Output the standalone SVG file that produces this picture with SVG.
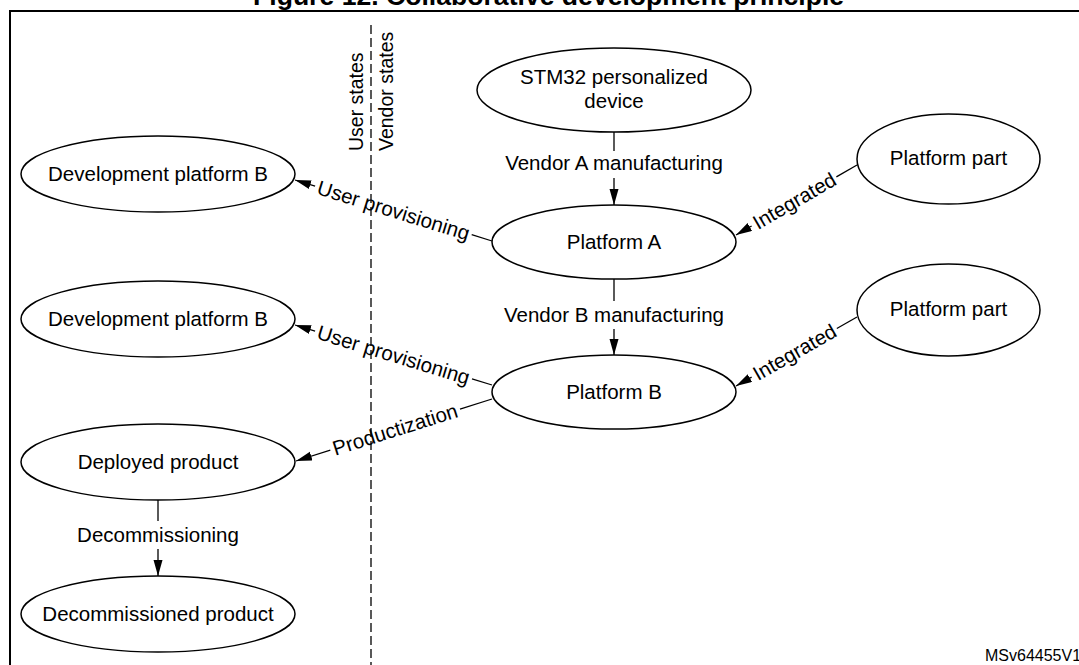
<svg xmlns="http://www.w3.org/2000/svg" width="1079" height="665" viewBox="0 0 1079 665">
<style>
text{font-family:"Liberation Sans",Arial,sans-serif;font-size:20.5px;fill:#000}
.t{text-anchor:middle}
.node ellipse{fill:#fff;stroke:#000;stroke-width:1.5}
.c line{stroke:#000;stroke-width:1.3;fill:none}
.title{font-weight:bold;font-size:26.6px}
.id{font-size:16px}
.side{font-size:19.5px}
</style>
<defs>
<marker id="ah" markerUnits="userSpaceOnUse" markerWidth="17" markerHeight="10" refX="16" refY="4.5" orient="auto">
<path d="M0,0 L16,4.5 L0,9 z" fill="#000"/>
</marker>
</defs>
<rect width="1079" height="665" fill="#fff"/>
<text class="title" x="253" y="5">Figure 12. Collaborative development principle</text>
<path d="M10,665 V11 H1079" fill="none" stroke="#000" stroke-width="2"/>
<g id="divider">
<line x1="371" y1="25" x2="371" y2="665" stroke="#000" stroke-width="1.3" stroke-dasharray="9,4"/>
<text class="side" transform="translate(363,151) rotate(-90)">User states</text>
<text class="side" transform="translate(393,151) rotate(-90)">Vendor states</text>
</g>
<g id="connectors" class="c">
<line x1="614" y1="132" x2="614" y2="151"/>
<line x1="614" y1="178" x2="614" y2="205" marker-end="url(#ah)"/>
<text class="t" x="614" y="170">Vendor A manufacturing</text>
<line x1="614" y1="279" x2="614" y2="301"/>
<line x1="614" y1="329" x2="614" y2="355" marker-end="url(#ah)"/>
<text class="t" x="614" y="322">Vendor B manufacturing</text>
<line x1="158" y1="500" x2="158" y2="521"/>
<line x1="158" y1="549" x2="158" y2="576" marker-end="url(#ah)"/>
<text class="t" x="158" y="542">Decommissioning</text>
<line x1="492" y1="241" x2="471.7" y2="234.7"/>
<line x1="315.1" y1="186.2" x2="295" y2="180" marker-end="url(#ah)"/>
<text class="t" transform="translate(393.5,210.5) rotate(17.21)" x="0" y="7">User provisioning</text>
<line x1="492" y1="385" x2="472" y2="378.9"/>
<line x1="315.1" y1="331.1" x2="295" y2="325" marker-end="url(#ah)"/>
<text class="t" transform="translate(393.5,355) rotate(16.94)" x="0" y="7">User provisioning</text>
<line x1="492" y1="399" x2="460" y2="409.1"/>
<line x1="330.3" y1="450.1" x2="296" y2="461" marker-end="url(#ah)"/>
<text class="t" transform="translate(395.1,429.6) rotate(-17.55)" x="0" y="7">Productization</text>
<line x1="857" y1="165" x2="836.4" y2="176.9"/>
<line x1="751.6" y1="226" x2="736" y2="235" marker-end="url(#ah)"/>
<text class="t" transform="translate(794.5,201) rotate(-30.05)" x="0" y="7">Integrated</text>
<line x1="857" y1="317" x2="836.8" y2="328.5"/>
<line x1="751.6" y1="377.1" x2="736" y2="386" marker-end="url(#ah)"/>
<text class="t" transform="translate(794.7,352.3) rotate(-29.7)" x="0" y="7">Integrated</text>
</g>
<g id="stm32" class="node"><ellipse cx="614" cy="90" rx="137" ry="42"/><text class="t" x="614" y="84">STM32 personalized</text><text class="t" x="614" y="108">device</text></g>
<g id="platformPart1" class="node"><ellipse cx="948.5" cy="159" rx="91.5" ry="45"/><text class="t" x="948.5" y="165">Platform part</text></g>
<g id="devPlatformB1" class="node"><ellipse cx="158" cy="174" rx="137" ry="38"/><text class="t" x="158" y="181">Development platform B</text></g>
<g id="platformA" class="node"><ellipse cx="614" cy="242" rx="122" ry="37"/><text class="t" x="614" y="249">Platform A</text></g>
<g id="platformPart2" class="node"><ellipse cx="948.5" cy="310" rx="91.5" ry="46"/><text class="t" x="948.5" y="316">Platform part</text></g>
<g id="devPlatformB2" class="node"><ellipse cx="158" cy="319" rx="137" ry="38"/><text class="t" x="158" y="326">Development platform B</text></g>
<g id="platformB" class="node"><ellipse cx="614" cy="392" rx="122" ry="37"/><text class="t" x="614" y="399">Platform B</text></g>
<g id="deployed" class="node"><ellipse cx="158" cy="462" rx="137" ry="38"/><text class="t" x="158" y="469">Deployed product</text></g>
<g id="decommissioned" class="node"><ellipse cx="158" cy="614" rx="137" ry="38"/><text class="t" x="158" y="621">Decommissioned product</text></g>
<text class="id" x="985" y="661">MSv64455V1</text>
</svg>
